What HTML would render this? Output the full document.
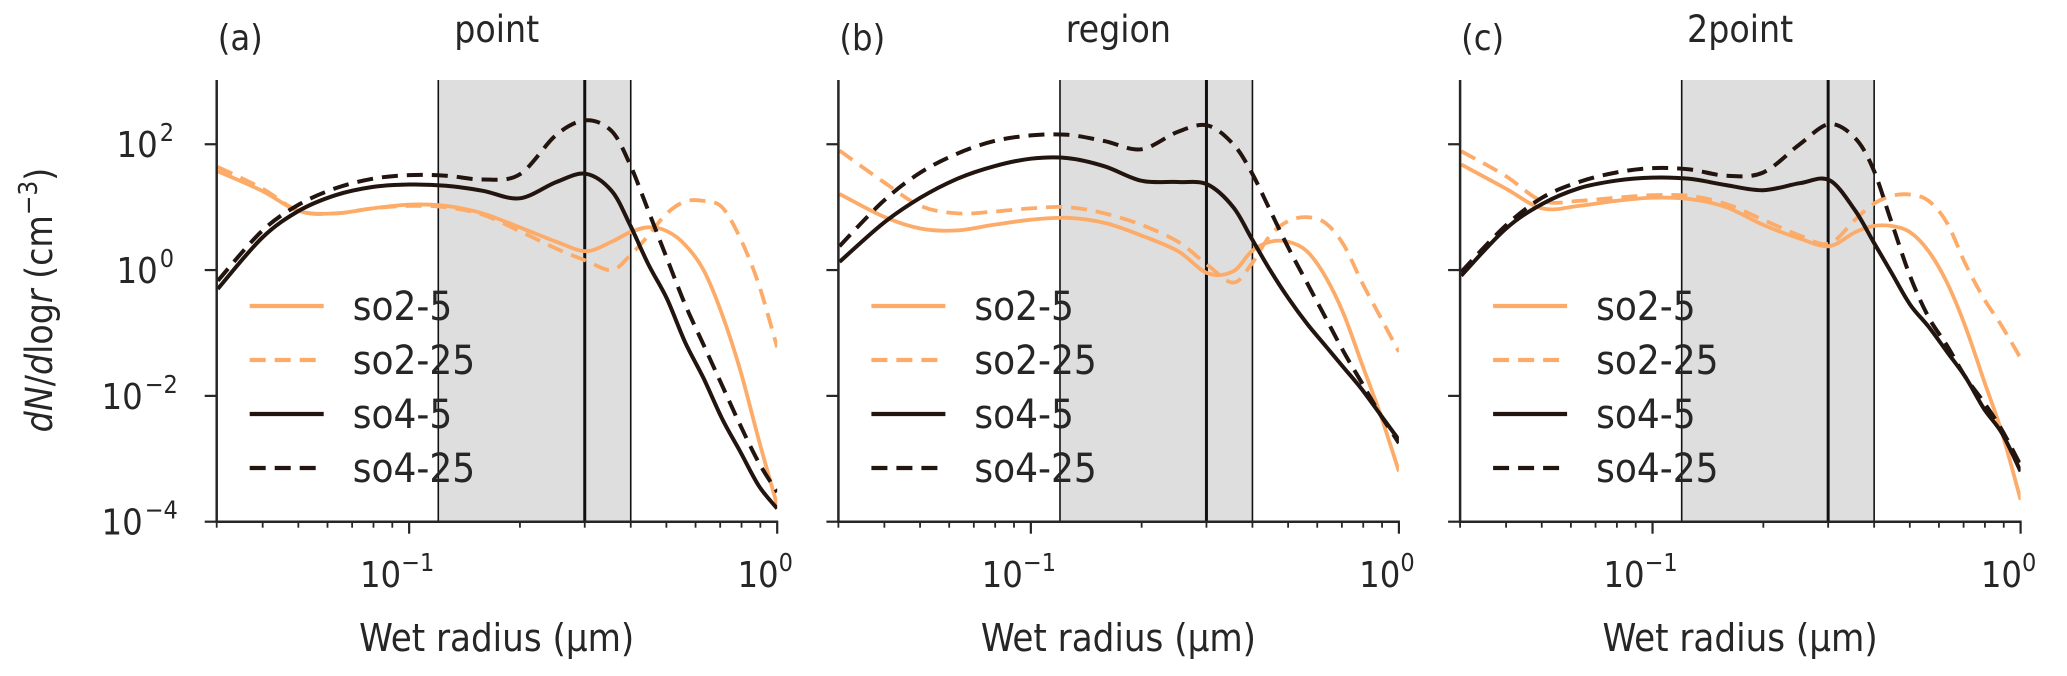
<!DOCTYPE html>
<html><head><meta charset="utf-8">
<style>
html,body{margin:0;padding:0;background:#fff;}
svg{display:block;font-family:"DejaVu Sans Condensed","DejaVu Sans","Liberation Sans",sans-serif;font-stretch:condensed;}
</style></head>
<body>
<svg id="chart" width="2067" height="676" viewBox="0 0 2067 676" xmlns="http://www.w3.org/2000/svg"></svg>
<script>
// log10(wet radius, µm) sample grid shared by all series
const radiusLog = [-1.52,-1.4,-1.3,-1.2,-1.1,-1.0,-0.9,-0.8,-0.7,-0.6,-0.52,-0.45,-0.4,-0.35,-0.3,-0.25,-0.2,-0.15,-0.1,-0.05,0];
const panelNames = ["point","region","2point"];
const panelLetters = ["(a)","(b)","(c)"];
const seriesNames = ["so2-5","so2-25","so4-5","so4-25"];
// log10(dN/dlogr) values per panel
const pointSo2_5  = [1.57,1.26,0.94,0.9,0.98,1.04,1.02,0.9,0.68,0.45,0.3,0.45,0.6,0.68,0.62,0.4,0.0,-0.7,-1.6,-2.7,-3.74];
const pointSo2_25 = [1.64,1.3,0.94,0.9,0.98,1.02,1.0,0.88,0.62,0.34,0.15,0.0,0.23,0.55,0.9,1.09,1.1,1.0,0.5,-0.23,-1.23];
const pointSo4_5  = [-0.3,0.51,0.94,1.19,1.32,1.36,1.34,1.26,1.14,1.4,1.53,1.26,0.72,0.09,-0.45,-1.15,-1.72,-2.36,-2.89,-3.43,-3.79];
const pointSo4_25 = [-0.17,0.62,1.04,1.3,1.45,1.51,1.5,1.44,1.52,2.15,2.38,2.21,1.68,0.94,0.19,-0.55,-1.19,-1.83,-2.47,-3.06,-3.53];
const regionSo2_5  = [1.21,0.85,0.66,0.63,0.72,0.8,0.83,0.75,0.55,0.3,-0.05,-0.02,0.3,0.45,0.45,0.3,-0.1,-0.7,-1.5,-2.3,-3.2];
const regionSo2_25 = [1.9,1.4,1.02,0.9,0.93,0.98,1.0,0.9,0.72,0.45,0.08,-0.2,0.1,0.55,0.78,0.84,0.75,0.4,-0.2,-0.75,-1.3];
const regionSo4_5  = [0.13,0.75,1.15,1.45,1.65,1.77,1.78,1.65,1.42,1.4,1.36,1.0,0.5,0.0,-0.45,-0.85,-1.2,-1.55,-1.9,-2.3,-2.7];
const regionSo4_25 = [0.38,1.1,1.55,1.85,2.05,2.14,2.15,2.05,1.92,2.2,2.3,2.0,1.55,0.95,0.35,-0.2,-0.75,-1.3,-1.8,-2.3,-2.75];
const twoPointSo2_5  = [1.68,1.3,0.98,1.02,1.1,1.15,1.13,1.0,0.72,0.5,0.38,0.6,0.7,0.7,0.6,0.3,-0.2,-0.9,-1.75,-2.6,-3.65];
const twoPointSo2_25 = [1.89,1.5,1.1,1.1,1.15,1.19,1.18,1.05,0.8,0.55,0.42,0.8,1.05,1.18,1.2,1.1,0.75,0.1,-0.45,-0.9,-1.4];
const twoPointSo4_5  = [-0.09,0.65,1.05,1.3,1.42,1.47,1.45,1.35,1.27,1.38,1.43,0.95,0.45,-0.05,-0.55,-0.9,-1.3,-1.7,-2.2,-2.6,-3.2];
const twoPointSo4_25 = [-0.03,0.7,1.15,1.4,1.55,1.62,1.6,1.5,1.55,2.0,2.32,2.1,1.6,0.75,-0.1,-0.75,-1.2,-1.7,-2.1,-2.55,-3.1];
const yTickExps = [2,0,-2,-4];
const xTickExps = [-1,0];
const shadeRange = [0.12,0.4];
const markerRadius = 0.3;

const panelData = [
  [pointSo2_5,pointSo2_25,pointSo4_5,pointSo4_25],
  [regionSo2_5,regionSo2_25,regionSo4_5,regionSo4_25],
  [twoPointSo2_5,twoPointSo2_25,twoPointSo4_5,twoPointSo4_25]
];
const ORANGE="#fdab69", DARK="#22140f", TXT="#262626";
const styles=[{c:ORANGE,d:null},{c:ORANGE,d:"16 9"},{c:DARK,d:null},{c:DARK,d:"16 9"}];
const svg=document.getElementById('chart');
const NS="http://www.w3.org/2000/svg";
function mk(tag,attrs,parent){const e=document.createElementNS(NS,tag);for(const k in attrs)e.setAttribute(k,attrs[k]);(parent||svg).appendChild(e);return e;}

const X0=216.7, PW=560.5, PSTEP=621.7, YTOP=80, YBOT=521.7;
const LX0=Math.log10(0.03), LX1=0, LY0=-4, LY1=Math.log10(1050);
function ysc(ly){return YBOT-(ly-LY0)/(LY1-LY0)*(YBOT-YTOP);}

function smoothPath(pts){
  let d="M"+pts[0][0].toFixed(1)+","+pts[0][1].toFixed(1);
  for(let i=0;i<pts.length-1;i++){
    const p0=pts[i-1]||pts[i],p1=pts[i],p2=pts[i+1],p3=pts[i+2]||pts[i+1];
    const c1=[p1[0]+(p2[0]-p0[0])/6,p1[1]+(p2[1]-p0[1])/6];
    const c2=[p2[0]-(p3[0]-p1[0])/6,p2[1]-(p3[1]-p1[1])/6];
    d+=" C"+c1[0].toFixed(1)+","+c1[1].toFixed(1)+" "+c2[0].toFixed(1)+","+c2[1].toFixed(1)+" "+p2[0].toFixed(1)+","+p2[1].toFixed(1);
  }
  return d;
}

panelNames.forEach((pname,pi)=>{
  const ox=X0+pi*PSTEP;
  const xsc=lx=>ox+(lx-LX0)/(LX1-LX0)*PW;
  const g=mk('g',{});
  
  
  const clipId='clip'+pi;
  const cp=mk('clipPath',{id:clipId},g);
  mk('rect',{x:ox,y:YTOP,width:PW,height:YBOT-YTOP},cp);
  const sh=mk('rect',{x:xsc(Math.log10(shadeRange[0])),y:YTOP,width:xsc(Math.log10(shadeRange[1]))-xsc(Math.log10(shadeRange[0])),height:YBOT-YTOP,fill:"#dedede"},g);
  
  
  [[shadeRange[0],1.6],[shadeRange[1],1.6],[markerRadius,3]].forEach(([v,w])=>{
    const l=mk('line',{x1:xsc(Math.log10(v)),x2:xsc(Math.log10(v)),y1:YTOP,y2:YBOT,stroke:"#111",'stroke-width':w},g);
    
    
  });
  panelData[pi].forEach((vals,si)=>{
    const pts=radiusLog.map((lx,i)=>[xsc(lx),ysc(vals[i])]);
    const p=mk('path',{d:smoothPath(pts),fill:"none",stroke:styles[si].c,'stroke-width':si<2?3.8:4,'clip-path':'url(#'+clipId+')'},g);
    if(styles[si].d)p.setAttribute('stroke-dasharray',styles[si].d);
    
    
  });
  mk('line',{x1:ox,x2:ox,y1:YTOP,y2:YBOT+1,stroke:TXT,'stroke-width':2.5},g);
  mk('line',{x1:ox-1,x2:ox+PW+1,y1:YBOT,y2:YBOT,stroke:TXT,'stroke-width':2.5},g);
  yTickExps.forEach(e=>{
    const y=ysc(e);
    mk('line',{x1:ox-12,x2:ox,y1:y,y2:y,stroke:TXT,'stroke-width':2.2},g);
    if(pi===0){
      const neg=e<0;
      const expX=neg?ox-72:ox-57;
      const t=mk('text',{x:expX-2,y:y+13,'text-anchor':'end','font-size':36,fill:TXT},g);
      
      
      t.textContent='10';
      const s=mk('text',{x:expX,y:y-3,'font-size':25,fill:TXT},g);
      
      
      s.textContent=(neg?'\u2212'+(-e):String(e));
    }
  });
  for(let dec=-2;dec<=-1;dec++){for(let m=2;m<=9;m++){
    const lx=dec+Math.log10(m); if(lx<LX0-1e-6||lx>LX1)continue;
    const x=xsc(lx); mk('line',{x1:x,x2:x,y1:YBOT,y2:YBOT+6,stroke:TXT,'stroke-width':1.8},g);
  }}
  xTickExps.forEach(e=>{
    const x=xsc(e);
    mk('line',{x1:x,x2:x,y1:YBOT,y2:YBOT+12,stroke:TXT,'stroke-width':2.2},g);
    const t=mk('text',{x:x-12,y:587,'text-anchor':'middle','font-size':36,fill:TXT},g);
    
    
    t.innerHTML='10<tspan dy="-16" font-size="25">'+(e<0?'\u2212'+(-e):e)+'</tspan>';
  });
  const xl=mk('text',{x:ox+280,y:651,'text-anchor':'middle','font-size':38,fill:TXT},g);
  
  
  xl.textContent='Wet radius (\u00b5m)';
  const lt=mk('text',{x:ox+1,y:50,'font-size':36,fill:TXT},g);
  
  
  lt.textContent=panelLetters[pi];
  const tt=mk('text',{x:ox+280,y:42,'text-anchor':'middle','font-size':37,fill:TXT},g);
  
  
  tt.textContent=pname;
  seriesNames.forEach((n,si)=>{
    const y=306+si*54;
    const lg=mk('g',{},g);
    
    
    const l=mk('line',{x1:ox+33,x2:ox+107,y1:y,y2:y,stroke:styles[si].c,'stroke-width':4.2},lg);
    if(styles[si].d)l.setAttribute('stroke-dasharray',styles[si].d);
    mk('text',{x:ox+136,y:y+14,'font-size':40,fill:TXT},lg).textContent=n;
  });
});
const yl=mk('text',{transform:'translate(52,300) rotate(-90)','text-anchor':'middle','font-size':37,fill:TXT});


yl.innerHTML='<tspan font-style="italic">dN</tspan>/<tspan font-style="italic">d</tspan>log<tspan font-style="italic">r</tspan> (cm<tspan dy="-15" font-size="26">\u22123</tspan><tspan dy="15">)</tspan>';
</script>
</body></html>
